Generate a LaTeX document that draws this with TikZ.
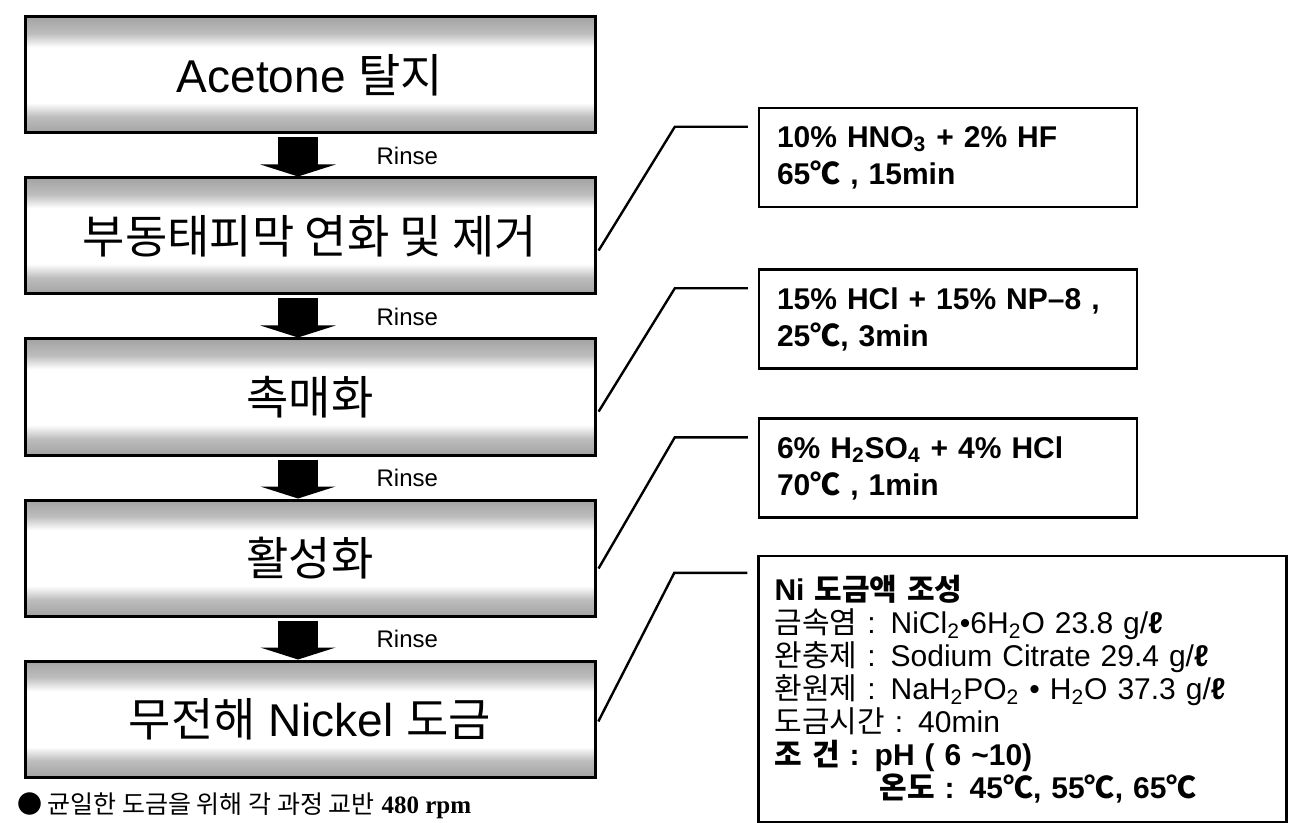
\documentclass[tikz,border=0pt]{standalone}
\usepackage{fontspec}
\setmainfont{Liberation Sans}
\newfontfamily\krfont{Noto Sans CJK KR}
\newfontfamily\serifbold{Liberation Serif}
\usetikzlibrary{arrows.meta,positioning}

% gray bands top and bottom, white in the middle
\pgfdeclareverticalshading{bandshade}{100bp}{color(0bp)=(black!36); color(25bp)=(black!36); color(32bp)=(black!26); color(38bp)=(white); color(62bp)=(white); color(68bp)=(black!26); color(75bp)=(black!36); color(100bp)=(black!36)}

\newcommand{\degc}{{\krfont ℃}}

\tikzset{
  stepbox/.style={draw,line width=1.5pt,shade,shading=bandshade,minimum width=285pt,minimum height=58pt,font=\fontsize{23}{27}\selectfont},
  infobox/.style={draw,line width=1.2pt,fill=white,align=left,inner xsep=9pt,font=\bfseries\fontsize{15}{18.5}\selectfont},
  flow/.style={line width=20pt,-{Triangle[length=6pt 0 0,width=37.5pt 0 0]},shorten <=1.5pt},
  rinse/.style={anchor=west,xshift=26pt,font=\fontsize{12}{14}\selectfont},
  link/.style={line width=1.2pt,shorten <=2pt,shorten >=5pt},
}

\begin{document}
\begin{tikzpicture}[x=0.5pt,y=-0.5pt,node distance=21pt]
  \useasboundingbox (0,0) rectangle (1295,823);

  % process steps
  \node[stepbox] (s1) at (310,75) {Acetone {\krfont 탈지}};
  \node[stepbox,below=of s1] (s2) {\krfont 부동태피막 연화 및 제거};
  \node[stepbox,below=of s2] (s3) {\krfont 촉매화};
  \node[stepbox,below=of s3] (s4) {\krfont 활성화};
  \node[stepbox,below=of s4] (s5) {{\krfont 무전해} Nickel {\krfont 도금}};

  \draw[flow] ([xshift=-6pt]s1.south) -- node[rinse] {Rinse} ([xshift=-6pt]s2.north);
  \draw[flow] ([xshift=-6pt]s2.south) -- node[rinse] {Rinse} ([xshift=-6pt]s3.north);
  \draw[flow] ([xshift=-6pt]s3.south) -- node[rinse] {Rinse} ([xshift=-6pt]s4.north);
  \draw[flow] ([xshift=-6pt]s4.south) -- node[rinse] {Rinse} ([xshift=-6pt]s5.north);

  \node[anchor=west,font=\fontsize{12.5}{14}\selectfont] (note) at (10,806)
    {{\krfont ● 균일한 도금을 위해 각 과정 교반} {\serifbold\bfseries 480 rpm}};

  % conditions
  \node[infobox,text width=171pt,minimum height=49.5pt] (c1) at (948,157.5)
    {10\% HNO\textsubscript{3} + 2\% HF\\65\degc\ , 15min};
  \node[infobox,text width=171pt,minimum height=49.5pt] (c2) at (948,319)
    {15\% HCl + 15\% NP--8 ,\\25\degc, 3min};
  \node[infobox,text width=171pt,minimum height=49.5pt] (c3) at (948,468)
    {6\% H\textsubscript{2}SO\textsubscript{4} + 4\% HCl\\70\degc\ , 1min};
  \node[infobox,text width=248pt,minimum height=133pt,inner xsep=8pt,font=\fontsize{15}{16.5}\selectfont] (c4) at (1022.5,689)
    {{\bfseries Ni {\krfont 도금액 조성}}\\
     {\krfont 금속염} : NiCl\textsubscript{2}•6H\textsubscript{2}O 23.8 g/{\bfseries ℓ}\\
     {\krfont 완충제} : Sodium Citrate 29.4 g/{\bfseries ℓ}\\
     {\krfont 환원제} : NaH\textsubscript{2}PO\textsubscript{2} • H\textsubscript{2}O 37.3 g/{\bfseries ℓ}\\
     {\krfont 도금시간} : 40min\\
     {\bfseries {\krfont 조 건} : pH ( 6 \textasciitilde10)}\\
     {\bfseries \hspace*{3.5em}{\krfont 온도} : 45\degc, 55\degc, 65\degc}};

  \draw[link] ([yshift=-9pt]s2.east) -- ([xshift=-41.5pt,yshift=-10pt]c1.north west) -- ([yshift=-10pt]c1.north west);
  \draw[link] ([yshift=-9pt]s3.east) -- ([xshift=-41.5pt,yshift=-10pt]c2.north west) -- ([yshift=-10pt]c2.north west);
  \draw[link] ([yshift=-7pt]s4.east) -- ([xshift=-41.5pt,yshift=-10pt]c3.north west) -- ([yshift=-10pt]c3.north west);
  \draw[link] ([yshift=-3pt]s5.east) -- ([xshift=-41.5pt,yshift=-9pt]c4.north west) -- ([yshift=-9pt]c4.north west);
\end{tikzpicture}
\end{document}
